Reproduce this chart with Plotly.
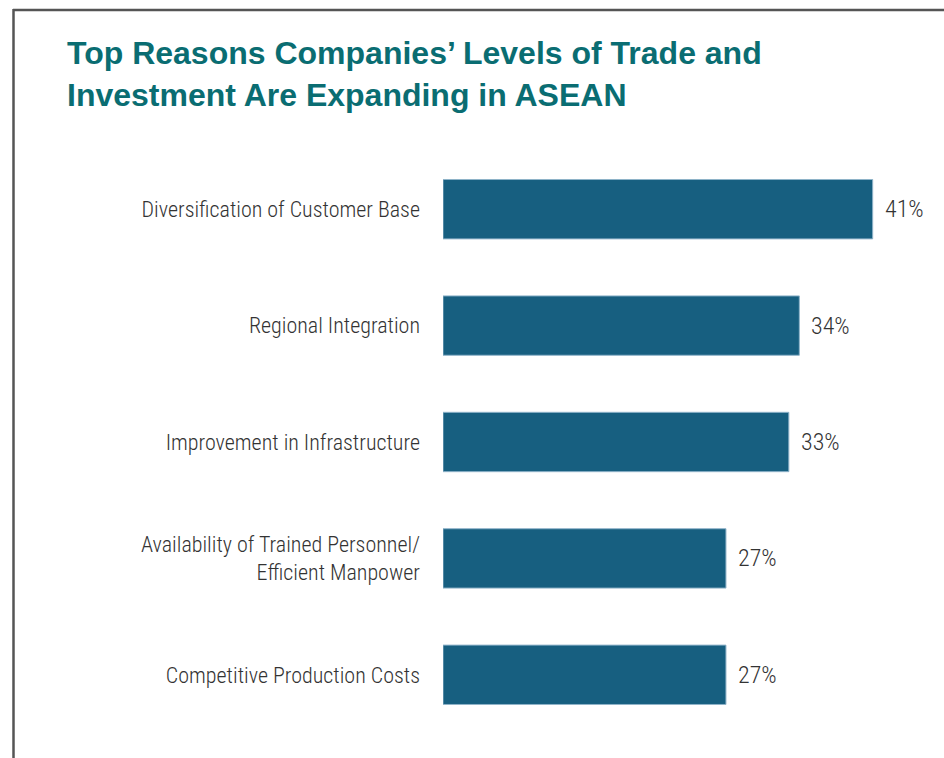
import plotly.graph_objects as go

categories = [
    "Diversification of Customer Base",
    "Regional Integration",
    "Improvement in Infrastructure",
    "Availability of Trained Personnel/<br>Efficient Manpower",
    "Competitive Production Costs",
]
values = [41, 34, 33, 27, 27]
value_labels = ["41%", "34%", "33%", "27%", "27%"]

W, H = 944, 758
ML, MR, MT, MB = 443, 12, 151, 25
XMAX = (W - ML - MR) / 10.48

BAR = "#175f80"
TXT = "#333333"
FONT = "Roboto Condensed, DejaVu Sans Condensed, sans-serif"

fig = go.Figure(go.Bar(
    x=values, y=categories, orientation="h",
    marker=dict(color=BAR, line=dict(color="#8fb3c9", width=1)),
    width=0.51, hoverinfo="skip",
))

for c, v, t in zip(categories, values, value_labels):
    fig.add_annotation(x=v, y=c, text=t, showarrow=False, xanchor="left",
                       xshift=10, font=dict(family=FONT, size=24, color=TXT, weight=300))

pw = W - ML - MR
ph = H - MT - MB
def px(x):
    return (x - ML) / pw
def py(y):
    return (H - MB - y) / ph

fig.add_shape(type="line", xref="paper", yref="paper",
              x0=px(13), x1=px(W + 5), y0=py(10), y1=py(10),
              line=dict(color="#555555", width=2.5))
fig.add_shape(type="line", xref="paper", yref="paper",
              x0=px(13.5), x1=px(13.5), y0=py(9), y1=py(H + 5),
              line=dict(color="#555555", width=2.5))

fig.update_layout(
    width=W, height=H,
    margin=dict(l=ML, r=MR, t=MT, b=MB),
    plot_bgcolor="white", paper_bgcolor="white",
    showlegend=False,
    title=dict(
        text="Top Reasons Companies’ Levels of Trade and<br>Investment Are Expanding in ASEAN",
        xref="container", yref="container", x=67 / W, xanchor="left",
        y=1 - 64 / H, yanchor="top",
        font=dict(family="Liberation Sans, Arial, sans-serif", size=32, color="#0a6d72", weight="bold"),
    ),
    xaxis=dict(range=[0, XMAX], visible=False),
    yaxis=dict(autorange="reversed", showline=False, showgrid=False, zeroline=False,
               ticks="", ticklabelstandoff=22,
               tickfont=dict(family=FONT, size=22, color=TXT, weight=300)),
)

fig.write_html("out.html", config={"displayModeBar": False},
               post_script="document.body.style.margin='0';document.body.style.overflow='hidden';")
